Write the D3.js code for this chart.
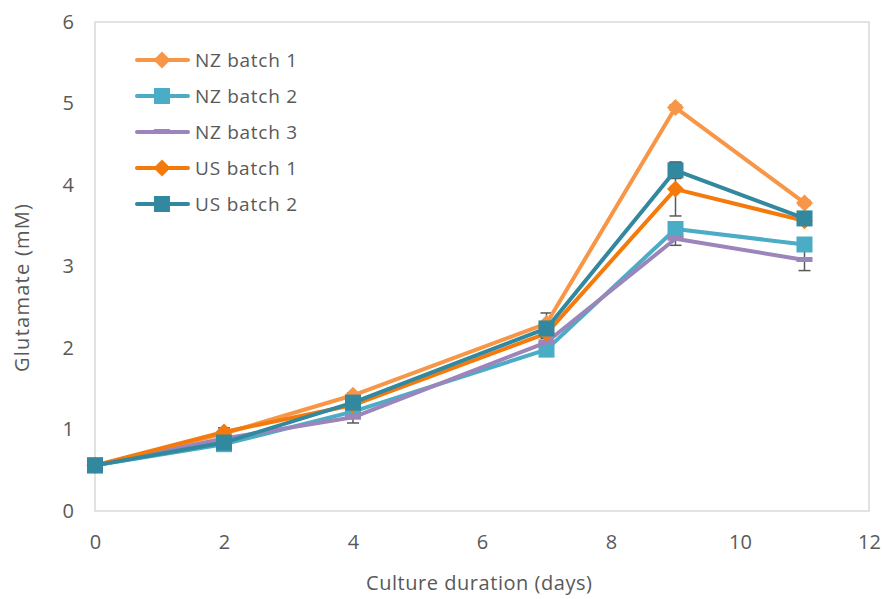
<!DOCTYPE html>
<html>
<head>
<meta charset="utf-8">
<script src="https://cdn.jsdelivr.net/npm/d3@7"></script>
<style>
  html, body { margin: 0; padding: 0; background: #fff; }
  svg { display: block; font-family: "Open Sans", Lato, sans-serif; }
</style>
</head>
<body>
<svg id="chart" width="884" height="599"></svg>
<script>
// Culture days sampled
const days = [0, 2, 4, 7, 9, 11];

// Glutamate concentration (mM) per batch
const nzBatch1 = [0.56, 0.95, 1.42, 2.30, 4.95, 3.78];
const nzBatch2 = [0.56, 0.82, 1.22, 1.98, 3.46, 3.27];
const nzBatch3 = [0.56, 0.89, 1.15, 2.07, 3.34, 3.08];
const usBatch1 = [0.56, 0.97, 1.30, 2.18, 3.95, 3.56];
const usBatch2 = [0.56, 0.84, 1.33, 2.24, 4.18, 3.59];

// Standard deviations (error bars)
const nzBatch1Err = [0, 0.02, 0.03, 0.13, 0.03, 0.03];
const nzBatch2Err = [0, 0.03, 0.04, 0.05, 0.05, 0.05];
const nzBatch3Err = [0, 0.05, 0.07, 0.05, 0.08, 0.13];
const usBatch1Err = [0, 0.05, 0.04, 0.05, 0.33, 0.03];
const usBatch2Err = [0, 0.03, 0.03, 0.05, 0.10, 0.03];

const seriesNames = ["NZ batch 1", "NZ batch 2", "NZ batch 3", "US batch 1", "US batch 2"];
const seriesColors = ["#F79646", "#4BACC6", "#9B85BA", "#F47A0C", "#31889F"];
const seriesMarkers = ["diamond", "square", "dash", "diamond", "square"];

const xTicks = [0, 2, 4, 6, 8, 10, 12];
const yTicks = [0, 1, 2, 3, 4, 5, 6];

const series = [
  { name: seriesNames[0], values: nzBatch1, err: nzBatch1Err },
  { name: seriesNames[1], values: nzBatch2, err: nzBatch2Err },
  { name: seriesNames[2], values: nzBatch3, err: nzBatch3Err },
  { name: seriesNames[3], values: usBatch1, err: usBatch1Err },
  { name: seriesNames[4], values: usBatch2, err: usBatch2Err }
].map((s, i) => ({ ...s, color: seriesColors[i], marker: seriesMarkers[i] }));

const svg = d3.select("#chart");
const plot = { left: 95, right: 869, top: 22, bottom: 511 };

const x = d3.scaleLinear().domain([0, 12]).range([plot.left, plot.right]);
const y = d3.scaleLinear().domain([0, 6]).range([plot.bottom, plot.top]);

const textColor = "#595959";

// Plot area frame
svg.append("rect")
  .attr("x", plot.left).attr("y", plot.top)
  .attr("width", plot.right - plot.left).attr("height", plot.bottom - plot.top)
  .attr("fill", "none").attr("stroke", "#D9D9D9").attr("stroke-width", 1.5);

// Axes (labels only, frame supplies the lines)
const xAxis = svg.append("g")
  .attr("transform", `translate(0,${plot.bottom})`)
  .call(d3.axisBottom(x).tickValues(xTicks).tickSize(0).tickPadding(24).tickFormat(d3.format("d")));
xAxis.select(".domain").remove();
xAxis.selectAll("text").attr("fill", textColor).style("font-size", "20px").style("font-family", "'Open Sans', sans-serif");

const yAxis = svg.append("g")
  .attr("transform", `translate(${plot.left},0)`)
  .call(d3.axisLeft(y).tickValues(yTicks).tickSize(0).tickPadding(21).tickFormat(d3.format("d")));
yAxis.select(".domain").remove();
yAxis.selectAll("text").attr("fill", textColor).style("font-size", "20px").style("font-family", "'Open Sans', sans-serif");

// Axis titles
svg.append("text")
  .attr("x", 479).attr("y", 590)
  .attr("text-anchor", "middle").attr("fill", textColor)
  .attr("textLength", 226).attr("lengthAdjust", "spacing")
  .style("font-size", "20px")
  .text("Culture duration (days)");

svg.append("text")
  .attr("transform", `translate(29,288) rotate(-90)`)
  .attr("text-anchor", "middle").attr("fill", textColor)
  .attr("textLength", 168).attr("lengthAdjust", "spacing")
  .style("font-size", "20px")
  .text("Glutamate (mM)");

const line = d3.line().x((d, i) => x(days[i])).y(d => y(d));

function drawMarker(g, type, cx, cy, color) {
  if (type === "diamond") {
    g.append("path")
      .attr("d", `M${cx},${cy - 8.5}L${cx + 8.5},${cy}L${cx},${cy + 8.5}L${cx - 8.5},${cy}Z`)
      .attr("fill", color);
  } else if (type === "square") {
    g.append("rect")
      .attr("x", cx - 8).attr("y", cy - 8).attr("width", 16).attr("height", 16)
      .attr("fill", color);
  } else if (type === "dash") {
    g.append("rect")
      .attr("x", cx - 8).attr("y", cy - 3).attr("width", 16).attr("height", 5)
      .attr("fill", color);
  }
}

// Error bars
const errG = svg.append("g");
series.forEach(s => {
  s.values.forEach((v, i) => {
    const e = s.err[i];
    if (!e) return;
    const cx = x(days[i]);
    errG.append("line")
      .attr("x1", cx).attr("x2", cx).attr("y1", y(v - e)).attr("y2", y(v + e))
      .attr("stroke", "#595959").attr("stroke-width", 1.5);
    [v - e, v + e].forEach(t => {
      errG.append("line")
        .attr("x1", cx - 6).attr("x2", cx + 6).attr("y1", y(t)).attr("y2", y(t))
        .attr("stroke", "#595959").attr("stroke-width", 1.5);
    });
  });
});

// Series lines and markers
series.forEach(s => {
  const g = svg.append("g");
  g.append("path")
    .datum(s.values)
    .attr("d", line)
    .attr("fill", "none")
    .attr("stroke", s.color)
    .attr("stroke-width", 4)
    .attr("stroke-linejoin", "round")
    .attr("stroke-linecap", "round");
  s.values.forEach((v, i) => drawMarker(g, s.marker, x(days[i]), y(v), s.color));
});

// Legend
const legend = svg.append("g");
const legendY0 = 60, legendStep = 36;
series.forEach((s, i) => {
  const ly = legendY0 + i * legendStep;
  const g = legend.append("g");
  g.append("line")
    .attr("x1", 137).attr("x2", 188).attr("y1", ly).attr("y2", ly)
    .attr("stroke", s.color).attr("stroke-width", 4).attr("stroke-linecap", "round");
  drawMarker(g, s.marker, 162, ly, s.color);
  g.append("text")
    .attr("x", 195).attr("y", ly).attr("dy", "0.35em")
    .attr("fill", textColor).style("font-size", "19px")
    .attr("textLength", 102).attr("lengthAdjust", "spacing")
    .text(s.name);
});
</script>
</body>
</html>
